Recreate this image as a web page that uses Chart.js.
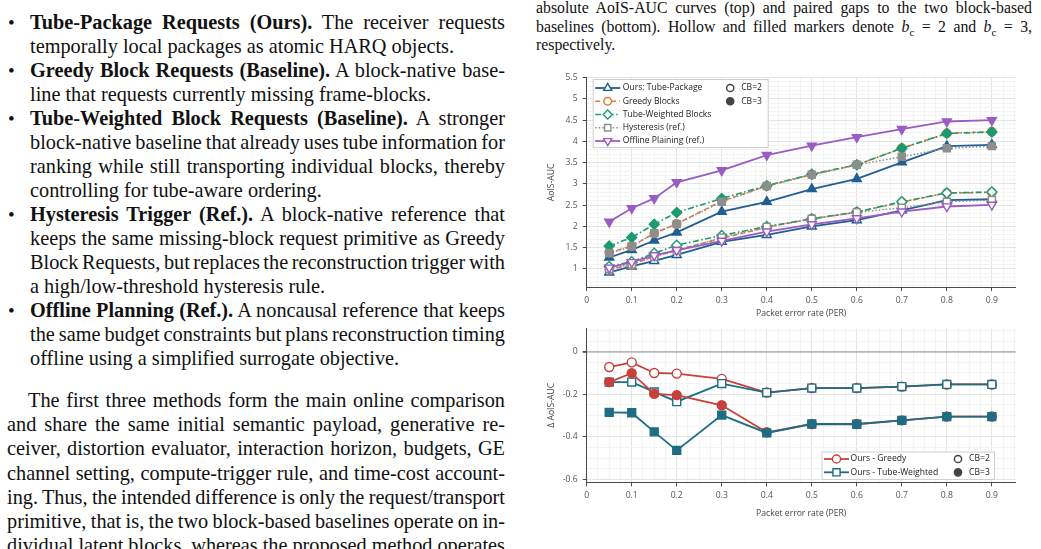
<!DOCTYPE html>
<html>
<head>
<meta charset="utf-8">
<script src="https://cdn.jsdelivr.net/npm/chart.js"></script>
<style>
  body { margin: 0; width: 1041px; height: 549px; overflow: hidden; background: #fff; position: relative;
         font-family: "Liberation Serif", "Times New Roman", serif; color: #111; }
  .col { position: absolute; }
  .col div { white-space: nowrap; position: relative; }
  .col span.t { display: inline-block; }
  #left { left: 0; top: 9.7px; font-size: 20.3px; line-height: 24.05px; }
  #left .b { padding-left: 30px; }
  #left .p { padding-left: 7px; }
  #left .p.first { padding-left: 28px; }
  .dot { position: absolute; left: 8px; top: 1px; font-size: 19px; }
  #cap { left: 536px; top: -0.6px; font-size: 15.8px; line-height: 18.2px; }
  .gap { height: 18px; }
  #wrapTop { position: absolute; left: 520px; top: 65px; width: 521px; height: 265px; }
  #wrapBottom { position: absolute; left: 520px; top: 318px; width: 521px; height: 231px; }
</style>
</head>
<body>

<div id="left" class="col">
  <div class="b"><span class="dot">&#8226;</span><span class="t j" data-w="475"><b>Tube-Package Requests (Ours).</b> The receiver requests</span></div>
  <div class="b"><span class="t">temporally local packages as atomic HARQ objects.</span></div>
  <div class="b"><span class="dot">&#8226;</span><span class="t j" data-w="475"><b>Greedy Block Requests (Baseline).</b> A block-native base-</span></div>
  <div class="b"><span class="t">line that requests currently missing frame-blocks.</span></div>
  <div class="b"><span class="dot">&#8226;</span><span class="t j" data-w="475"><b>Tube-Weighted Block Requests (Baseline).</b> A stronger</span></div>
  <div class="b"><span class="t j" data-w="475">block-native baseline that already uses tube information for</span></div>
  <div class="b"><span class="t j" data-w="475">ranking while still transporting individual blocks, thereby</span></div>
  <div class="b"><span class="t">controlling for tube-aware ordering.</span></div>
  <div class="b"><span class="dot">&#8226;</span><span class="t j" data-w="475"><b>Hysteresis Trigger (Ref.).</b> A block-native reference that</span></div>
  <div class="b"><span class="t j" data-w="475">keeps the same missing-block request primitive as Greedy</span></div>
  <div class="b"><span class="t j" data-w="475">Block Requests, but replaces the reconstruction trigger with</span></div>
  <div class="b"><span class="t">a high/low-threshold hysteresis rule.</span></div>
  <div class="b"><span class="dot">&#8226;</span><span class="t j" data-w="475"><b>Offline Planning (Ref.).</b> A noncausal reference that keeps</span></div>
  <div class="b"><span class="t j" data-w="475">the same budget constraints but plans reconstruction timing</span></div>
  <div class="b"><span class="t">offline using a simplified surrogate objective.</span></div>
  <div class="gap"></div>
  <div class="p first"><span class="t j" data-w="477">The first three methods form the main online comparison</span></div>
  <div class="p"><span class="t j" data-w="498">and share the same initial semantic payload, generative re-</span></div>
  <div class="p"><span class="t j" data-w="498">ceiver, distortion evaluator, interaction horizon, budgets, GE</span></div>
  <div class="p"><span class="t j" data-w="498">channel setting, compute-trigger rule, and time-cost account-</span></div>
  <div class="p"><span class="t j" data-w="498">ing. Thus, the intended difference is only the request/transport</span></div>
  <div class="p"><span class="t j" data-w="498">primitive, that is, the two block-based baselines operate on in-</span></div>
  <div class="p"><span class="t j" data-w="498">dividual latent blocks, whereas the proposed method operates</span></div>
</div>

<div id="cap" class="col">
  <div><span class="t j" data-w="496">absolute AoIS-AUC curves (top) and paired gaps to the two block-based</span></div>
  <div><span class="t j" data-w="496">baselines (bottom). Hollow and filled markers denote <i>b</i><sub style="font-size:11px;line-height:0">c</sub> = 2 and <i>b</i><sub style="font-size:11px;line-height:0">c</sub> = 3,</span></div>
  <div><span class="t">respectively.</span></div>
</div>

<div id="wrapTop"><canvas id="chartTop" width="521" height="265"></canvas></div>
<div id="wrapBottom"><canvas id="chartBottom" width="521" height="231"></canvas></div>

<script>
// packet error rates on the x axis
const per = [0.05, 0.1, 0.15, 0.2, 0.3, 0.4, 0.5, 0.6, 0.7, 0.8, 0.9];
const xTickValues = [0, 0.1, 0.2, 0.3, 0.4, 0.5, 0.6, 0.7, 0.8, 0.9];
const topYTicks = [1, 1.5, 2, 2.5, 3, 3.5, 4, 4.5, 5, 5.5];
const bottomYTicks = [-0.6, -0.4, -0.2, 0];

// top: absolute AoIS-AUC, hollow = CB=2, filled = CB=3
const topLabels = ['Ours: Tube-Package', 'Greedy Blocks', 'Tube-Weighted Blocks', 'Hysteresis (ref.)', 'Offline Plaining (ref.)'];
const oursCb2 = [0.92, 1.06, 1.19, 1.33, 1.64, 1.80, 2.00, 2.15, 2.38, 2.62, 2.64];
const oursCb3 = [1.27, 1.45, 1.67, 1.86, 2.35, 2.58, 2.88, 3.12, 3.51, 3.89, 3.92];
const greedyCb2 = [0.99, 1.10, 1.30, 1.45, 1.72, 1.98, 2.18, 2.34, 2.57, 2.79, 2.80];
const greedyCb3 = [1.39, 1.54, 1.84, 2.06, 2.60, 2.95, 3.22, 3.45, 3.84, 4.19, 4.23];
const tubeCb2 = [1.06, 1.17, 1.37, 1.56, 1.79, 2.00, 2.18, 2.34, 2.58, 2.79, 2.81];
const tubeCb3 = [1.54, 1.74, 2.05, 2.33, 2.66, 2.96, 3.23, 3.45, 3.84, 4.19, 4.22];
const hystCb2 = [1.00, 1.11, 1.29, 1.43, 1.74, 1.99, 2.18, 2.33, 2.44, 2.58, 2.62];
const hystCb3 = [1.37, 1.53, 1.84, 2.06, 2.58, 2.95, 3.22, 3.45, 3.64, 3.84, 3.89];
const offlineCb2 = [1.03, 1.16, 1.32, 1.44, 1.66, 1.88, 2.05, 2.19, 2.35, 2.47, 2.51];
const offlineCb3 = [2.11, 2.43, 2.66, 3.04, 3.32, 3.68, 3.90, 4.10, 4.29, 4.47, 4.50];

// bottom: paired gaps
const bottomLabels = ['Ours - Greedy', 'Ours - Tube-Weighted'];
const gapGreedyCb2 = [-0.072, -0.050, -0.100, -0.103, -0.128, -0.192, -0.171, -0.171, -0.164, -0.154, -0.154];
const gapGreedyCb3 = [-0.143, -0.101, -0.198, -0.204, -0.252, -0.379, -0.340, -0.340, -0.323, -0.305, -0.305];
const gapTubeCb2 = [-0.143, -0.143, -0.189, -0.235, -0.150, -0.192, -0.171, -0.171, -0.164, -0.154, -0.154];
const gapTubeCb3 = [-0.285, -0.287, -0.377, -0.464, -0.298, -0.382, -0.340, -0.341, -0.323, -0.305, -0.305];

// styles
const topStyles = [
  { color: '#225e92', dash: [], point: 'triangle', rot: 0, r: 5.2, w: 1.8 },
  { color: '#e07c36', dash: [5, 3], point: 'circle', rot: 0, r: 4.2, w: 1.5 },
  { color: '#1c9a70', dash: [6, 2.5, 1.5, 2.5], point: 'rectRot', rot: 0, r: 5, w: 1.6 },
  { color: '#8e8e8e', dash: [1.5, 2], point: 'rect', rot: 0, r: 5, w: 1.5 },
  { color: '#9a5cc3', dash: [], point: 'triangle', rot: 180, r: 5.2, w: 1.8 }
];
const bottomStyles = [
  { color: '#c7403a', dash: [], point: 'circle', rot: 0, r: 4.5, w: 1.8 },
  { color: '#1f6d82', dash: [], point: 'rect', rot: 0, r: 5.6, w: 1.8 }
];

const tickFont = { family: 'Open Sans', size: 8.6 };

// justify each text line to its column width
document.querySelectorAll('.j').forEach(el => {
  const target = +el.dataset.w;
  const gaps = (el.textContent.match(/ /g) || []).length;
  const w = el.getBoundingClientRect().width;
  if (gaps) el.style.wordSpacing = ((target - w) / gaps) + 'px';
});

function mkSeries(arr) {
  return per.map((x, i) => ({ x: x, y: arr[i] }));
}

function makeDataset(label, arr, s, filled, order) {
  return {
    label: label,
    data: mkSeries(arr),
    borderColor: s.color,
    borderWidth: s.w,
    borderDash: s.dash,
    pointStyle: s.point,
    pointRotation: s.rot,
    pointRadius: s.r,
    pointBorderWidth: 1.4,
    pointBorderColor: s.color,
    pointBackgroundColor: filled ? s.color : '#ffffff',
    tension: 0,
    fill: false,
    order: order
  };
}

// ticks: labelled majors + faint minor grid in between
function tickBuilder(majors, div) {
  return scale => {
    const step = (majors[1] - majors[0]) / div;
    const out = [];
    for (let v = majors[0] - step; v >= scale.min - 1e-9; v -= step) out.unshift({ value: +v.toFixed(4), minor: true });
    majors.forEach((m, i) => {
      out.push({ value: m });
      const next = i < majors.length - 1 ? majors[i + 1] : scale.max + 1e-9;
      for (let k = 1; k < div * 20; k++) {
        const v = +(m + k * step).toFixed(4);
        if (v >= next - 1e-9 || v > scale.max + 1e-9) break;
        out.push({ value: v, minor: true });
      }
    });
    scale.ticks = out;
  };
}

function fmt(v) {
  return v === 0 ? '0' : String(+v.toFixed(2));
}

function axis(opts) {
  return {
    type: 'linear',
    min: opts.min,
    max: opts.max,
    afterBuildTicks: tickBuilder(opts.majors, opts.div),
    afterFit: opts.fit,
    border: { display: true, color: '#4a4a4a', width: 1 },
    grid: {
      drawTicks: true,
      tickLength: 4,
      color: c => c.tick && c.tick.minor ? '#f4f4f4' : (opts.zero && c.tick && c.tick.value === 0 ? '#b9b9b9' : '#e4e4e4'),
      lineWidth: c => opts.zero && c.tick && c.tick.value === 0 ? 1.8 : 1,
      tickColor: c => c.tick && c.tick.minor ? 'rgba(0,0,0,0)' : '#4a4a4a'
    },
    ticks: {
      autoSkip: false,
      maxRotation: 0,
      padding: opts.pad,
      color: '#555',
      font: tickFont,
      callback: (v, i, ticks) => ticks[i].minor ? '' : fmt(v)
    },
    title: {
      display: true,
      text: opts.title,
      color: '#444',
      font: tickFont,
      padding: opts.titlePad
    }
  };
}

function drawMark(ctx, style, x, y, r, rot) {
  ctx.beginPath();
  if (style === 'circle') {
    ctx.arc(x, y, r, 0, Math.PI * 2);
  } else if (style === 'triangle') {
    let a = rot * Math.PI / 180;
    for (let k = 0; k < 3; k++) {
      const px = x + Math.sin(a) * r, py = y - Math.cos(a) * r;
      if (k === 0) ctx.moveTo(px, py); else ctx.lineTo(px, py);
      a += Math.PI * 2 / 3;
    }
  } else if (style === 'rect') {
    const s = r * Math.SQRT1_2;
    ctx.rect(x - s, y - s, 2 * s, 2 * s);
  } else if (style === 'rectRot') {
    ctx.moveTo(x, y - r); ctx.lineTo(x + r, y); ctx.lineTo(x, y + r); ctx.lineTo(x - r, y);
  }
  ctx.closePath();
  ctx.fill();
  ctx.stroke();
}

// two column legend inside the plot: methods + CB marker key
const boxLegend = {
  id: 'boxLegend',
  afterDatasetsDraw(chart, args, o) {
    const ctx = chart.ctx, ca = chart.chartArea;
    const bx = o.fromRight ? ca.right - o.dx - o.w : ca.left + o.dx;
    const by = o.fromBottom ? ca.bottom - o.dy - o.h : ca.top + o.dy;
    ctx.save();
    ctx.fillStyle = '#fff';
    ctx.strokeStyle = '#cfcfcf';
    ctx.lineWidth = 1;
    ctx.fillRect(bx, by, o.w, o.h);
    ctx.strokeRect(bx + 0.5, by + 0.5, o.w - 1, o.h - 1);
    ctx.font = '8.6px "Open Sans"';
    ctx.textBaseline = 'middle';
    ctx.textAlign = 'left';
    o.labels.forEach((lab, i) => {
      const s = o.styles[i];
      const y = by + o.row0 + i * o.rowH;
      ctx.strokeStyle = s.color;
      ctx.lineWidth = s.w;
      ctx.setLineDash(s.dash);
      ctx.beginPath();
      ctx.moveTo(bx + 2.5, y);
      ctx.lineTo(bx + 27.5, y);
      ctx.stroke();
      ctx.setLineDash([]);
      ctx.fillStyle = '#fff';
      ctx.lineWidth = 1.4;
      drawMark(ctx, s.point, bx + 15, y, s.r * 0.9, s.rot);
      ctx.fillStyle = '#222';
      ctx.fillText(lab, bx + o.textX, y);
    });
    ['CB=2', 'CB=3'].forEach((lab, i) => {
      const y = by + o.row0 + i * o.rowH;
      ctx.strokeStyle = '#444';
      ctx.lineWidth = 1.5;
      ctx.fillStyle = i === 0 ? '#fff' : '#444';
      drawMark(ctx, 'circle', bx + o.cbX, y, 3.6, 0);
      ctx.fillStyle = '#222';
      ctx.fillText(lab, bx + o.cbX + 11, y);
    });
    ctx.restore();
  }
};

const topSets = [
  [oursCb2, oursCb3], [greedyCb2, greedyCb3], [tubeCb2, tubeCb3], [hystCb2, hystCb3], [offlineCb2, offlineCb3]
];
const topDatasets = [];
topSets.forEach((pair, i) => {
  topDatasets.push(makeDataset(topLabels[i] + ' (CB=2)', pair[0], topStyles[i], false, 20 - 2 * i));
  topDatasets.push(makeDataset(topLabels[i] + ' (CB=3)', pair[1], topStyles[i], true, 19 - 2 * i));
});

new Chart(document.getElementById('chartTop'), {
  type: 'line',
  data: { datasets: topDatasets },
  plugins: [boxLegend],
  options: {
    responsive: false,
    animation: false,
    events: [],
    layout: { padding: { left: 0, right: 25.3, top: 12.7, bottom: 0 } },
    plugins: {
      legend: { display: false },
      tooltip: { enabled: false },
      boxLegend: {
        labels: topLabels, styles: topStyles,
        dx: 6, dy: 1.3, w: 176, h: 69, row0: 9, rowH: 13.25, textX: 30, cbX: 137.5
      }
    },
    scales: {
      x: axis({ min: 0, max: 0.953, majors: xTickValues, div: 4, pad: 4.5, title: 'Packet error rate (PER)',
                titlePad: { top: 0, bottom: 11.6 }, fit: s => { s.height = 43; } }),
      y: axis({ min: 0.576, max: 5.5, majors: topYTicks, div: 5, pad: 5, title: 'AoIS-AUC',
                titlePad: { top: 26.3, bottom: 0 }, fit: s => { s.width = 66.7; } })
    }
  }
});

// CB=2 curves underneath, CB=3 curves on top
const bottomDatasets = [
  makeDataset(bottomLabels[0] + ' (CB=2)', gapGreedyCb2, bottomStyles[0], false, 4),
  makeDataset(bottomLabels[1] + ' (CB=2)', gapTubeCb2, bottomStyles[1], false, 3),
  makeDataset(bottomLabels[0] + ' (CB=3)', gapGreedyCb3, bottomStyles[0], true, 2),
  makeDataset(bottomLabels[1] + ' (CB=3)', gapTubeCb3, bottomStyles[1], true, 1)
];

new Chart(document.getElementById('chartBottom'), {
  type: 'line',
  data: { datasets: bottomDatasets },
  plugins: [boxLegend],
  options: {
    responsive: false,
    animation: false,
    events: [],
    layout: { padding: { left: 0, right: 25.3, top: 10.3, bottom: 0 } },
    plugins: {
      legend: { display: false },
      tooltip: { enabled: false },
      boxLegend: {
        labels: bottomLabels, styles: bottomStyles, fromRight: true, fromBottom: true,
        dx: 20.7, dy: 2.3, w: 173.5, h: 28.5, row0: 7.5, rowH: 13.3, textX: 29, cbX: 136.5
      }
    },
    scales: {
      x: axis({ min: 0, max: 0.953, majors: xTickValues, div: 4, pad: 4.5, title: 'Packet error rate (PER)',
                titlePad: { top: 0, bottom: 30.6 }, fit: s => { s.height = 66.7; } }),
      y: axis({ min: -0.614, max: 0.11, majors: bottomYTicks, div: 4, pad: 5, title: '\u0394 AoIS-AUC', zero: true,
                titlePad: { top: 26.3, bottom: 0 }, fit: s => { s.width = 66.7; } })
    }
  }
});
</script>
</body>
</html>
